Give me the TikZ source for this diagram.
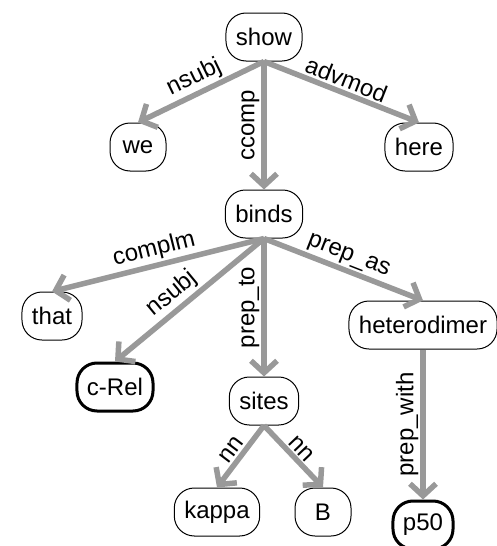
\documentclass[tikz,border=0pt]{standalone}
\usepackage{fontspec}
\setmainfont{Liberation Sans}
\usetikzlibrary{arrows.meta}
\definecolor{deparc}{RGB}{153,153,153}

\begin{document}
\begin{tikzpicture}[x=1pt,y=-1pt,
  word/.style={rounded corners=20pt,draw=black,line width=1pt,minimum height=48pt,
    minimum width=56pt,inner xsep=10pt,font=\fontsize{24}{28}\selectfont},
  head/.style={word,line width=3pt},
  dep/.style={draw=deparc,line width=5.5pt,-{Straight Barb[length=12pt,width=26pt]}},
  lab/.style={sloped,above,inner sep=2pt,text=black,font=\fontsize{24}{28}\selectfont},
  vlab/.style={rotate=90,anchor=south,inner sep=2pt,text=black,font=\fontsize{24}{28}\selectfont}]
\useasboundingbox (0,0) rectangle (497,546);
% words
\node (show) [word] at (264,37) {show};
\node (we) [word] at (138,147) {we};
\node (here) [word] at (419,147) {here};
\node (binds) [word] at (264,214) {binds};
\node (that) [word] at (52,316) {that};
\node (crel) [head] at (115,387) {c-Rel};
\node (sites) [word] at (264,401) {sites};
\node (hetero) [word] at (423,325) {heterodimer};
\node (kappa) [word] at (217,512) {kappa};
\node (b) [word] at (323,512) {B};
\node (p50) [head] at (423,525) {p50};
%
\draw[dep] (show.south) -- node[lab] {nsubj} (we.north);
\draw[dep] (show.south) -- node[vlab] {ccomp} (binds.north);
\draw[dep] (show.south) -- node[lab] {advmod} (here.north);
%
\draw[dep] (binds.south) -- node[lab] {complm} (that.north);
\draw[dep] (binds.south) -- node[lab,pos=0.55] {nsubj} (crel.north);
\draw[dep] (binds.south) -- node[vlab] {prep\_to} (sites.north);
\draw[dep] (binds.south) -- node[lab] {prep\_as} (hetero.north);
%
\draw[dep] (sites.south) -- node[lab] {nn} (kappa.north);
\draw[dep] (sites.south) -- node[lab] {nn} (b.north);
\draw[dep] (hetero.south) -- node[vlab] {prep\_with} (p50.north);
\end{tikzpicture}
\end{document}
